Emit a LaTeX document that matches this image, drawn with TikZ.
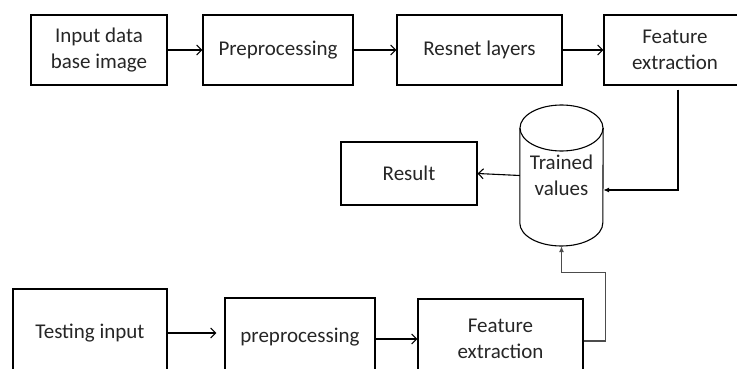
\documentclass[tikz,border=0pt]{standalone}
\usepackage{fontspec}
\setmainfont{Carlito}
\usetikzlibrary{arrows.meta,calc}
\begin{document}
\begin{tikzpicture}[x=1pt,y=-1pt,
  every node/.style={font=\fontsize{21}{26.5}\selectfont, text=black!85, align=center, inner sep=0pt},
  box/.style={draw, line width=1.1pt, rectangle},
  barb/.style={line width=1.1pt, -{Straight Barb[length=5pt,width=10pt]}},
  tri/.style={line width=1.1pt, -{Latex[length=6pt,width=5pt]}}]
\clip (0,0) rectangle (737,369);
% top row
\node[box, minimum width=136pt, minimum height=70pt] (in1) at (99,50) {Input data\\base image};
\node[box, minimum width=150pt, minimum height=70pt] (pre1) at (278,50) {Preprocessing};
\node[box, minimum width=165pt, minimum height=70pt] (res) at (479.5,50) {Resnet layers};
\node[box, minimum width=142pt, minimum height=70pt] (fe1) at (675,50) {Feature\\extraction};
% cylinder
\node[minimum width=83pt, minimum height=141pt] (tv) at (561.5,175.5) {Trained\\values};
\draw[line width=1.1pt] (561.5,128) ellipse [x radius=41.5pt, y radius=23pt];
\draw[line width=1.1pt] (tv.west |- 0,128) -- (tv.west |- 0,223)
  arc[start angle=180, end angle=360, x radius=41.5pt, y radius=23pt] -- (tv.east |- 0,128);
% result
\node[box, minimum width=136pt, minimum height=63pt] (result) at (409,173.5) {Result};
% bottom row
\node[box, minimum width=154pt, minimum height=88pt] (ti) at (90,333) {Testing input};
\node[box, minimum width=150pt, minimum height=78pt] (pp) at (300,337) {preprocessing};
\node[box, minimum width=165pt, minimum height=80pt] (fe2) at (500.5,339) {Feature\\extraction};
% connectors
\draw[barb] (in1) -- (pre1);
\draw[barb] (pre1) -- (res);
\draw[barb] (res) -- (fe1);
\coordinate (c1) at (678,190);
\draw[tri] ([yshift=-4pt]fe1.south -| c1) -- (c1) -- (c1 -| tv.east);
\draw[barb] (tv.west) -- (result.east);
\draw[barb, shorten >=8pt] (ti.east) -- (ti.east -| pp.west);
\draw[barb] ([yshift=-2pt]pp.east) -- ([yshift=-2pt]pp.east -| fe2.west);
\draw[tri, draw=black!70] ([yshift=-2pt]fe2.east) -- ++(22,0) |- ([yshift=-26pt]tv.south) -- (tv.south);
\end{tikzpicture}
\end{document}
